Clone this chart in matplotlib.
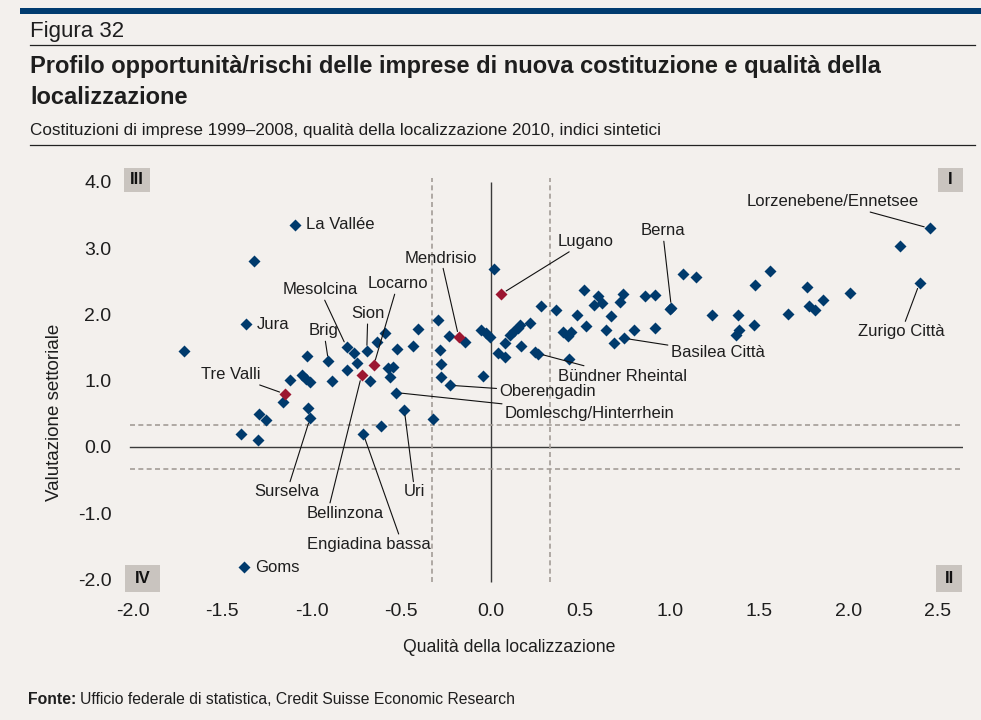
import matplotlib
matplotlib.use("Agg")
import matplotlib.pyplot as plt
from matplotlib.patches import Rectangle
from matplotlib.lines import Line2D

# ---------------- data ----------------
named_regions = ["La Vallée", "Jura", "Goms", "Tre Valli", "Mesolcina", "Brig", "Sion",
                 "Locarno", "Mendrisio", "Lugano", "Berna", "Lorzenebene/Ennetsee",
                 "Zurigo Città", "Basilea Città", "Bündner Rheintal", "Oberengadin",
                 "Domleschg/Hinterrhein", "Surselva", "Bellinzona", "Uri", "Engiadina bassa"]
named_x = [-1.095, -1.369, -1.380, -1.151, -0.806, -0.907, -0.693,
           -0.654, -0.179, 0.060, 1.010, 2.453,
           2.397, 0.745, 0.264, -0.227,
           -0.529, -1.009, -0.722, -0.483, -0.713]
named_y = [3.35, 1.85, -1.82, 0.80, 1.51, 1.29, 1.45,
           1.23, 1.66, 2.31, 2.10, 3.30,
           2.47, 1.64, 1.41, 0.93,
           0.82, 0.44, 1.08, 0.56, 0.20]
named_highlight = [False, False, False, True, False, False, False,
                   True, True, True, False, False,
                   False, False, False, False,
                   False, False, True, False, False]

other_x = [-1.713, -1.326, -1.397, -1.300, -1.294, -1.259, -1.160, -1.123, -1.056, -1.034,
           -1.011, -1.021, -1.028, -0.887, -0.762, -0.637, -0.592, -0.523, -0.750, -0.806,
           -0.676, -0.574, -0.546, -0.564, -0.615, -0.322, -0.437, -0.406, -0.292, -0.233,
           -0.145, -0.283, -0.277, -0.277, -0.045, -0.055, -0.028, -0.006, 0.017, 0.041,
           0.080, 0.078, 0.106, 0.132, 0.150, 0.162, 0.222, 0.171, 0.246, 0.283,
           0.363, 0.404, 0.435, 0.430, 0.450, 0.480, 0.520, 0.530, 0.600, 0.580,
           0.620, 0.646, 0.674, 0.689, 0.720, 0.740, 0.800, 0.860, 0.920, 0.920,
           1.000, 1.077, 1.145, 1.237, 1.370, 1.390, 1.380, 1.470, 1.480, 1.559,
           1.663, 1.767, 1.780, 1.810, 1.859, 2.011, 2.290]
other_y = [1.45, 2.81, 0.20, 0.10, 0.50, 0.41, 0.68, 1.01, 1.09, 1.03,
           0.98, 0.59, 1.37, 0.99, 1.42, 1.59, 1.72, 1.48, 1.26, 1.16,
           0.99, 1.19, 1.21, 1.05, 0.32, 0.42, 1.53, 1.78, 1.91, 1.67,
           1.58, 1.46, 1.25, 1.06, 1.07, 1.77, 1.72, 1.66, 2.69, 1.42,
           1.36, 1.57, 1.69, 1.75, 1.80, 1.84, 1.87, 1.52, 1.44, 2.13,
           2.07, 1.74, 1.32, 1.68, 1.74, 1.99, 2.37, 1.83, 2.28, 2.14,
           2.17, 1.77, 1.98, 1.57, 2.18, 2.31, 1.77, 2.28, 2.30, 1.79,
           2.08, 2.61, 2.56, 1.99, 1.69, 1.76, 1.99, 1.84, 2.44, 2.66,
           2.01, 2.42, 2.13, 2.06, 2.22, 2.32, 3.04]

x_ticks = [-2.0, -1.5, -1.0, -0.5, 0.0, 0.5, 1.0, 1.5, 2.0, 2.5]
y_ticks = [-2.0, -1.0, 0.0, 1.0, 2.0, 3.0, 4.0]
threshold = 0.33

# ---------------- styling / label placement ----------------
BG = "#f3f0ed"
BLUE = "#003a6c"
RED = "#9c1631"
TXT = "#1e1e1e"
BOXC = "#c9c4bf"
FONT = "Liberation Sans"
LFS = 12  # label font size

# text positions (data coords, centre) and leader start (relative pos on text box)
label_pos = {
    "La Vallée": None, "Jura": None, "Goms": None,
    "Tre Valli": ((-1.453, 1.09), (0.5, 0.5)),
    "Mesolcina": ((-0.955, 2.37), (0.5, 0.5)),
    "Brig": ((-0.933, 1.75), (0.5, 0.5)),
    "Sion": ((-0.687, 2.01), (0.5, 0.5)),
    "Locarno": ((-0.520, 2.46), (0.5, 0.5)),
    "Mendrisio": ((-0.279, 2.85), (0.5, 0.5)),
    "Lugano": ((0.531, 3.10), (0.5, 0.5)),
    "Berna": ((0.961, 3.26), (0.5, 0.5)),
    "Lorzenebene/Ennetsee": ((1.911, 3.70), (0.5, 0.5)),
    "Zurigo Città": ((2.296, 1.74), (0.5, 0.5)),
    "Basilea Città": ((1.268, 1.42), (0.5, 0.5)),
    "Bündner Rheintal": ((0.737, 1.07), (0.5, 0.5)),
    "Oberengadin": ((0.318, 0.83), (0.5, 0.5)),
    "Domleschg/Hinterrhein": ((0.553, 0.51), (0.5, 0.5)),
    "Surselva": ((-1.140, -0.68), (0.5, 0.5)),
    "Bellinzona": ((-0.816, -1.00), (0.3, 1.0)),
    "Uri": ((-0.425, -0.68), (0.5, 0.5)),
    "Engiadina bassa": ((-0.682, -1.47), (0.75, 1.0)),
}

W, H = 981, 720
fig = plt.figure(figsize=(W / 100, H / 100), dpi=100, facecolor=BG)


def fx(px):
    return px / W


def fy(py):
    return 1 - py / H


# header
fig.add_artist(Rectangle((fx(20), fy(14)), fx(961), 6 / H, transform=fig.transFigure,
                         color="#003b6f", lw=0))
fig.add_artist(Line2D([fx(30), fx(975)], [fy(45), fy(45)], color="#222222", lw=0.9))
fig.add_artist(Line2D([fx(30), fx(975)], [fy(145), fy(145)], color="#222222", lw=0.9))
fig.text(fx(30), fy(31), "Figura 32", fontsize=16, family=FONT, color=TXT, va="center")
fig.text(fx(30), fy(66), "Profilo opportunità/rischi delle imprese di nuova costituzione e qualità della",
         fontsize=17, family=FONT, weight="bold", color=TXT, va="center")
fig.text(fx(30), fy(97), "localizzazione", fontsize=17, family=FONT, weight="bold", color=TXT, va="center")
fig.text(fx(30), fy(130), "Costituzioni di imprese 1999–2008, qualità della localizzazione 2010, indici sintetici",
         fontsize=12.3, family=FONT, color=TXT, va="center")

# footer
fig.text(fx(28), fy(699), "Fonte:", fontsize=11.3, family=FONT, weight="bold", color=TXT, va="center")
fig.text(fx(80), fy(699), "Ufficio federale di statistica, Credit Suisse Economic Research",
         fontsize=11.3, family=FONT, color=TXT, va="center")

# axes
ax = fig.add_axes([fx(124), fy(592), (963 - 124) / W, (592 - 168) / H])
ax.set_facecolor(BG)
ax.set_xlim(-2.05, 2.64)
ax.set_ylim(-2.19, 4.21)
for s in ax.spines.values():
    s.set_visible(False)
ax.set_xticks(x_ticks)
ax.set_xticklabels([f"{v:.1f}" for v in x_ticks], family=FONT, fontsize=14, color=TXT)
ax.set_yticks(y_ticks)
ax.set_yticklabels([f"{v:.1f}" for v in y_ticks], family=FONT, fontsize=14, color=TXT)
ax.tick_params(axis="y", length=0, pad=9)
ax.tick_params(axis="x", length=0, pad=8)

# reference lines
ax.axhline(0, xmin=0.007, xmax=0.999, color="#3a3a3a", lw=1.0, zorder=1)
ax.vlines(0, -2.04, 4.0, color="#3a3a3a", lw=1.0, zorder=1)
for v in (-threshold, threshold):
    ax.axhline(v, xmin=0.007, xmax=0.999, color="#a39d97", lw=1.2, ls=(0, (3, 2)), zorder=1)
    ax.vlines(v, -2.04, 4.06, color="#a39d97", lw=1.2, ls=(0, (3, 2)), zorder=1)

# points
ms = 6.6
ax.plot(other_x, other_y, ls="none", marker="D", ms=ms, color=BLUE, mec="none", zorder=3)
bx = [x for x, h in zip(named_x, named_highlight) if not h]
by = [y for y, h in zip(named_y, named_highlight) if not h]
rx = [x for x, h in zip(named_x, named_highlight) if h]
ry = [y for y, h in zip(named_y, named_highlight) if h]
ax.plot(bx, by, ls="none", marker="D", ms=ms, color=BLUE, mec="none", zorder=3)
ax.plot(rx, ry, ls="none", marker="D", ms=ms, color=RED, mec="none", zorder=4)

# labels
for name, x, y in zip(named_regions, named_x, named_y):
    pos = label_pos[name]
    if pos is None:
        ax.annotate(name, xy=(x, y), xytext=(8, 0), textcoords="offset points",
                    ha="left", va="center", fontsize=LFS, family=FONT, color=TXT)
    else:
        (tx, ty), rel = pos
        ax.annotate(name, xy=(x, y), xytext=(tx, ty), textcoords="data",
                    ha="center", va="center", fontsize=LFS, family=FONT, color=TXT,
                    arrowprops=dict(arrowstyle="-", color="#111111", lw=0.8,
                                    shrinkA=0, shrinkB=4, relpos=rel))


# quadrant boxes
def qbox(x0, y0, w, h, txt):
    ax.add_patch(Rectangle((x0, y0), w, h, transform=ax.transAxes, color=BOXC, lw=0,
                           zorder=2, clip_on=False))
    ax.text(x0 + w / 2, y0 + h / 2, txt, transform=ax.transAxes, ha="center", va="center",
            fontsize=12, weight="bold", family=FONT, color="#111111", zorder=3)


qbox(0.0, 1 - 24 / 424, 26 / 839, 24 / 424, "III")
qbox((938 - 124) / 839, 1 - 24 / 424, 25 / 839, 24 / 424, "I")
qbox(1 / 839, 0.0, 35 / 839, 27 / 424, "IV")
qbox((936 - 124) / 839, 0.0, 26 / 839, 27 / 424, "II")

# axis titles
fig.text(fx(509), fy(648), "Qualità della localizzazione", fontsize=12.7, family=FONT,
         color=TXT, ha="center", va="center")
fig.text(fx(55), fy(412), "Valutazione settoriale", fontsize=13.5, family=FONT,
         color=TXT, ha="center", va="center", rotation=90)

fig.savefig("out.png", dpi=100, facecolor=BG)
